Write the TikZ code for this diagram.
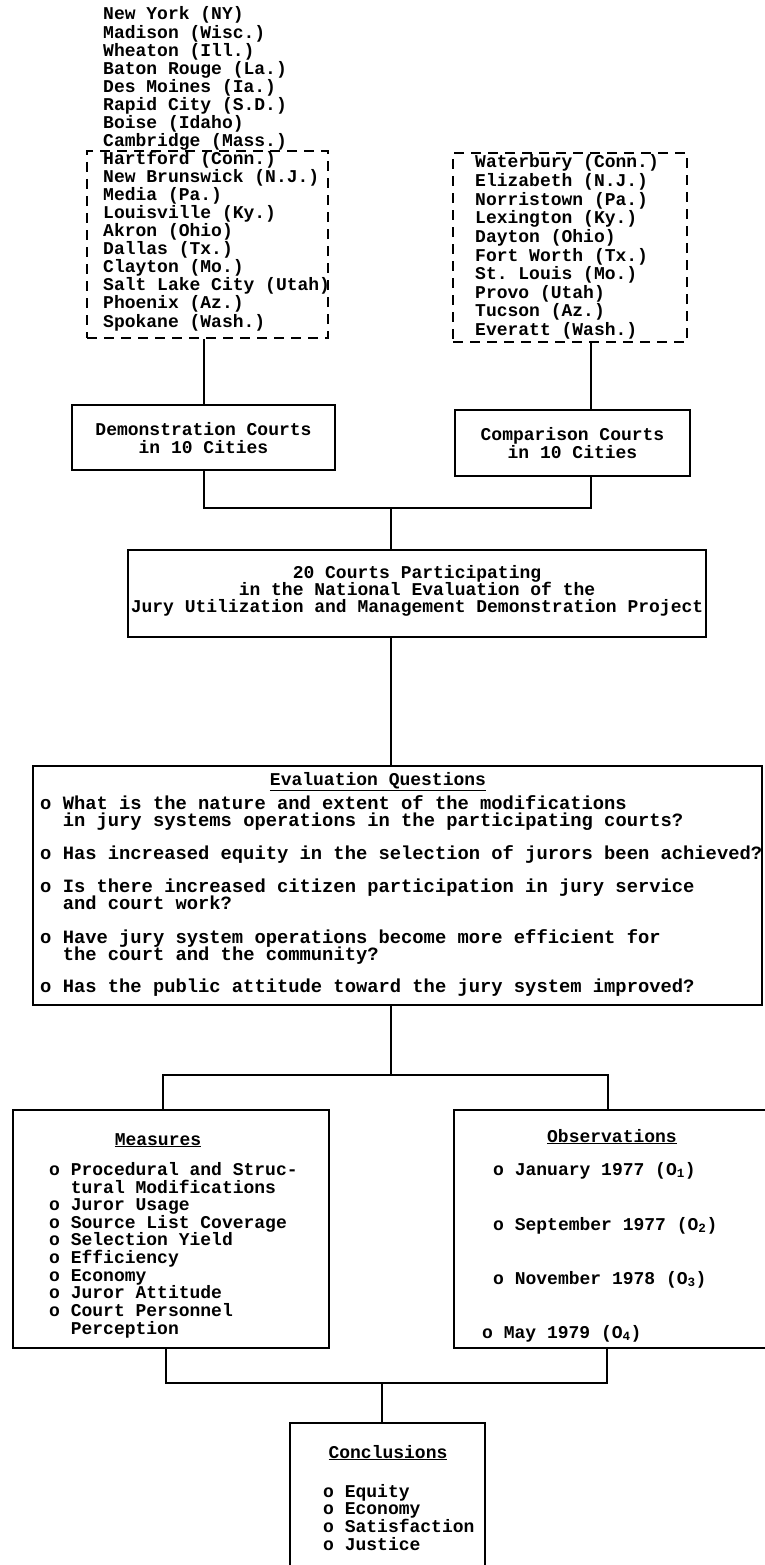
\documentclass[tikz,border=0pt]{standalone}
\usepackage{fontspec}
\setmainfont{Liberation Mono}
\begin{document}
\frenchspacing
\begin{tikzpicture}[x=1pt,y=-1pt,
  txt/.style={font=\fontsize{18}{18}\selectfont\bfseries, inner sep=0pt, anchor=base west},
  ctxt/.style={txt, anchor=base},
  etxt/.style={txt, font=\fontsize{18.8}{18}\selectfont\bfseries},
  boxline/.style={line width=1.6pt},
  box/.style={draw, boxline, inner sep=0pt},
  openbox/.style={draw=none, inner sep=0pt},
  dbox/.style={draw, line width=1.5pt, dash pattern=on 10pt off 7pt, inner sep=0pt},
  link/.style={line width=1.5pt}]
\useasboundingbox (0,0) rectangle (765,1565);

% ---- boxes ----
\node[dbox, minimum width=241pt, minimum height=187pt] (lbox) at (207.5,244.5) {};
\node[dbox, minimum width=234pt, minimum height=189pt] (rbox) at (570,247.5) {};
\node[box, minimum width=263pt, minimum height=65pt] (demo) at (203.5,437.5) {};
\node[box, minimum width=235pt, minimum height=66pt] (comp) at (572.5,443) {};
\node[box, minimum width=578pt, minimum height=87pt] (courts) at (417,593.5) {};
\node[box, minimum width=729pt, minimum height=239pt] (evalq) at (397.5,885.5) {};
\node[box, minimum width=316pt, minimum height=238pt] (meas) at (171,1229) {};
\node[openbox, minimum width=311pt, minimum height=238pt] (obs) at (609.5,1229) {};
\node[openbox, minimum width=195pt, minimum height=142pt] (concl) at (387.5,1494) {};
\draw[boxline] (obs.north east) -- (obs.north west) -- (obs.south west) -- (obs.south east);
\draw[boxline] (concl.south west) -- (concl.north west) -- (concl.north east) -- (concl.south east);

% ---- city lists ----
\foreach \t [count=\i] in {New York (NY), Madison (Wisc.), Wheaton (Ill.),
  Baton Rouge (La.), Des Moines (Ia.), Rapid City (S.D.), Boise (Idaho),
  Cambridge (Mass.), Hartford (Conn.), New Brunswick (N.J.), Media (Pa.),
  Louisville (Ky.), Akron (Ohio), Dallas (Tx.), Clayton (Mo.),
  Salt Lake City (Utah), Phoenix (Az.), Spokane (Wash.)}
  \node[txt] (dc\i) at (103,{20+18.06*(\i-1)}) {\t};
\foreach \t [count=\i] in {Waterbury (Conn.), Elizabeth (N.J.), Norristown (Pa.),
  Lexington (Ky.), Dayton (Ohio), Fort Worth (Tx.), St. Louis (Mo.),
  Provo (Utah), Tucson (Az.), Everatt (Wash.)}
  \node[txt] (cc\i) at (475,{168+18.6*(\i-1)}) {\t};

% ---- box texts ----
\node[ctxt] (demo1) at (203.5,435) {Demonstration Courts};
\node[ctxt] (demo2) at (203.5,453) {in 10 Cities};
\node[ctxt] (comp1) at (572.5,440) {Comparison Courts};
\node[ctxt] (comp2) at (572.5,458) {in 10 Cities};
\node[ctxt] (ct1) at (417,578) {20 Courts Participating};
\node[ctxt] (ct2) at (417,595) {in the National Evaluation of the};
\node[ctxt] (ct3) at (417,612) {Jury Utilization and Management Demonstration Project};

\node[ctxt] (eqt) at (378,785) {\underline{Evaluation Questions}};
\foreach \x/\y/\t [count=\i] in {
  40/809/o What is the nature and extent of the modifications,
  62.6/826/in jury systems operations in the participating courts?,
  40/859/o Has increased equity in the selection of jurors been achieved?,
  40/892/o Is there increased citizen participation in jury service,
  62.6/909/and court work?,
  40/943/o Have jury system operations become more efficient for,
  62.6/960/the court and the community?,
  40/992/o Has the public attitude toward the jury system improved?}
  \node[etxt] (eq\i) at (\x,\y) {\t};

\node[ctxt] (mt) at (158,1145) {\underline{Measures}};
\foreach \x/\y/\t [count=\i] in {
  49/1175/o Procedural and Struc-,
  70.6/1193/tural Modifications,
  49/1210/o Juror Usage,
  49/1228/o Source List Coverage,
  49/1245/o Selection Yield,
  49/1263/o Efficiency,
  49/1281/o Economy,
  49/1298/o Juror Attitude,
  49/1316/o Court Personnel,
  70.6/1334/Perception}
  \node[txt] (ms\i) at (\x,\y) {\t};

\node[ctxt] (ot) at (612,1142) {\underline{Observations}};
\node[txt] (ob1) at (493,1175) {o January 1977 (O\textsubscript{1})};
\node[txt] (ob2) at (493,1230) {o September 1977 (O\textsubscript{2})};
\node[txt] (ob3) at (493,1284) {o November 1978 (O\textsubscript{3})};
\node[txt] (ob4) at (482,1338) {o May 1979 (O\textsubscript{4})};

\node[ctxt] (clt) at (388,1458) {\underline{Conclusions}};
\foreach \t [count=\i] in {Equity, Economy, Satisfaction, Justice}
  \node[txt] (cl\i) at (323,{1497+17.7*(\i-1)}) {o \t};

% ---- connectors ----
\coordinate (xl) at (204,0);
\coordinate (xr) at (591,0);
\coordinate (j1) at (391,508);
\coordinate (j2) at (391,1075);
\coordinate (ml) at (163,0);
\coordinate (mr) at (608,0);
\coordinate (j3) at (382,1383);
\coordinate (bl) at (166,0);
\coordinate (br) at (607,0);

\draw[link] (lbox.south -| xl) -- (demo.north -| xl);
\draw[link] (rbox.south -| xr) -- (comp.north -| xr);
\draw[link] (demo.south -| xl) |- (j1) -| (comp.south -| xr);
\draw[link] (j1) -- (courts.north -| j1);
\draw[link] (courts.south -| j1) -- (evalq.north -| j1);
\draw[link] (evalq.south -| j2) -- (j2);
\draw[link] (meas.north -| ml) |- (j2) -| (obs.north -| mr);
\draw[link] (meas.south -| bl) |- (j3) -| (obs.south -| br);
\draw[link] (j3) -- (concl.north -| j3);
\end{tikzpicture}
\end{document}
